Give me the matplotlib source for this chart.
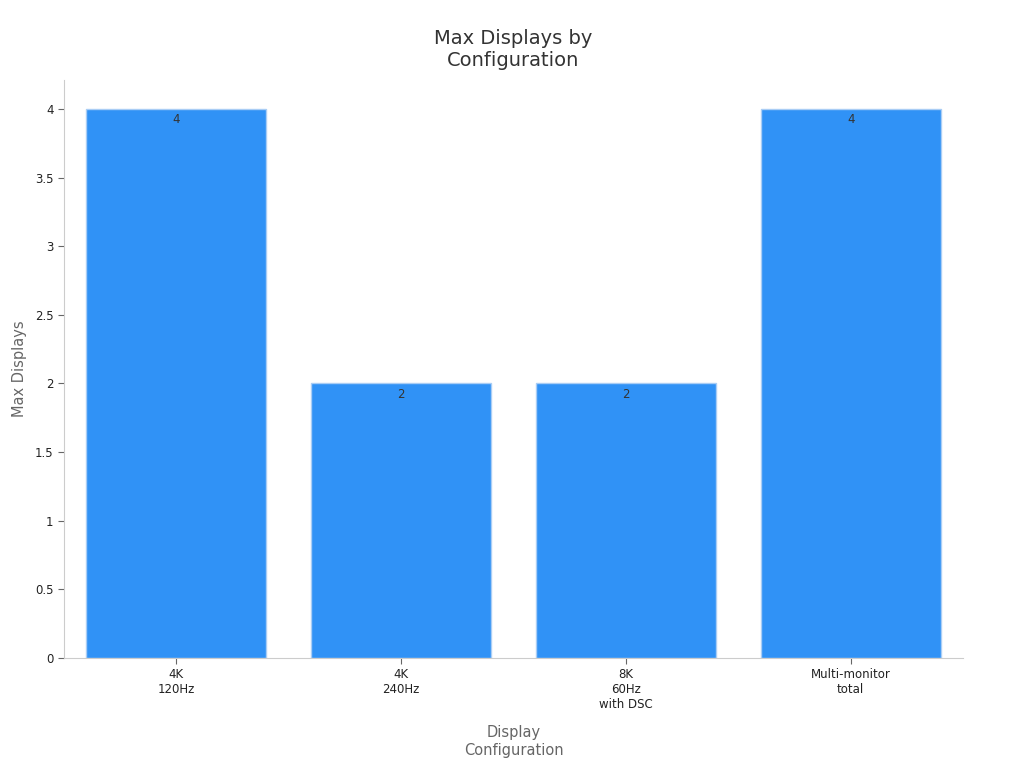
import matplotlib.pyplot as plt

# chart data
configs = ["4K\n120Hz", "4K\n240Hz", "8K\n60Hz\nwith DSC", "Multi-monitor\ntotal"]
max_displays = [4, 2, 2, 4]
y_ticks = [0, 0.5, 1, 1.5, 2, 2.5, 3, 3.5, 4]
y_tick_labels = ["0", "0.5", "1", "1.5", "2", "2.5", "3", "3.5", "4"]

fig = plt.figure(figsize=(10.24, 7.68), dpi=100)
ax = fig.add_axes([0.0625, 0.1432, 0.878, 0.7526])

x = list(range(len(configs)))
bars = ax.bar(x, max_displays, width=0.8, color="#3092f6",
              edgecolor="#a9cdf5", linewidth=1)

for b, v in zip(bars, max_displays):
    ax.annotate(str(v), (b.get_x() + b.get_width() / 2, v),
                xytext=(0, -3), textcoords="offset points",
                ha="center", va="top", fontsize=8.5, color="#333333")

ax.set_xlim(-0.5, 3.5)
ax.set_ylim(0, 4.21)
ax.set_xticks(x)
ax.set_xticklabels(configs, fontsize=8.5, color="#222222")
ax.set_yticks(y_ticks)
ax.set_yticklabels(y_tick_labels, fontsize=8.5, color="#222222")

for side in ["top", "right"]:
    ax.spines[side].set_visible(False)
for side in ["left", "bottom"]:
    ax.spines[side].set_color("#cccccc")
ax.tick_params(axis="both", colors="#666666", labelcolor="#222222", length=4)

ax.set_xlabel("Display\nConfiguration", fontsize=10.5, color="#666666", labelpad=10)
ax.set_ylabel("Max Displays", fontsize=10.5, color="#666666", labelpad=6)
ax.set_title("Max Displays by\nConfiguration", fontsize=14, color="#333333", pad=10)

fig.savefig("out.png", dpi=100)
